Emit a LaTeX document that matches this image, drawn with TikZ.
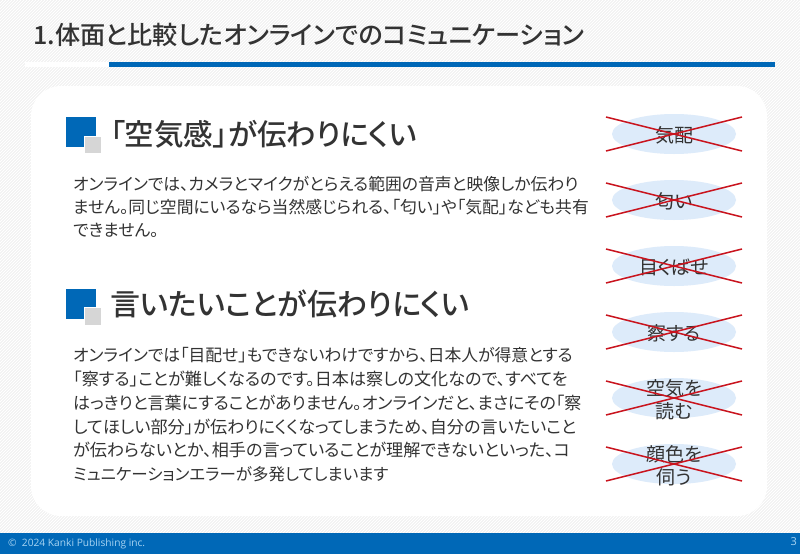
\documentclass[tikz,border=0pt]{standalone}
\usepackage{fontspec}
\usetikzlibrary{shapes.geometric}
\setmainfont{Noto Sans CJK JP}[RawFeature=+palt]
\newfontfamily\medf{Noto Sans CJK JP Medium}[RawFeature=+palt]
\newfontfamily\latinf{Open Sans}
\definecolor{brandblue}{HTML}{0068B7}
\definecolor{inkc}{HTML}{333333}
\definecolor{ovalc}{HTML}{DDEBFA}
\definecolor{crossc}{HTML}{C9141E}
\definecolor{footc}{HTML}{A8D4F2}
\tikzset{
 title/.style={anchor=west,inner sep=0pt,text=inkc,font=\medf\fontsize{25.2}{25.2}\selectfont},
 heading/.style={anchor=west,inner sep=0pt,text=inkc,font=\medf\fontsize{#1}{#1}\selectfont},
 bodyline/.style={anchor=west,inner sep=0pt,text=inkc,font=\fontsize{#1}{#1}\selectfont},
 bodyline/.default=16.8,
 oval/.style={ellipse,fill=ovalc,minimum width=124pt,minimum height=40pt,inner sep=0pt},
 ovaltext/.style={inner sep=0pt,text=inkc,align=center,font=\fontsize{19}{23}\selectfont},
 crossline/.style={draw=crossc,line width=1.5pt},
 mainsq/.style={fill=brandblue,draw=none},
 subsq/.style={fill=black!16,draw=white,line width=.6pt},
}
\begin{document}
\begin{tikzpicture}[x=1pt,y=-1pt]
\useasboundingbox (0,0) rectangle (800,554);
\fill[black!6] (0,0) rectangle (800,554);
\begin{scope}
\clip (0,0) rectangle (800,554);
\foreach \i in {-554,-551,...,800} \draw[white,line width=.8pt] (\i,554) -- (\i+554,0);
\end{scope}
% panel
\fill[white] (31,86) [rounded corners=30pt] rectangle (767,516);
% title
\node[title] (ttl) at (33,35) {1.体面と比較したオンラインでのコミュニケーション};
\fill[white] (25,62) rectangle (109,67);
\fill[brandblue] (109,61.5) rectangle (775,67);
% headings
\fill[mainsq] (66,117) rectangle (96,147);
\fill[subsq] (84,136) rectangle (101,153);
\node[heading=29.5] (h1) at (110,134) {「空気感」が伝わりにくい};
\fill[mainsq] (66,289) rectangle (96,319);
\fill[subsq] (84,307) rectangle (101,325);
\node[heading=30] (h2) at (110,304) {言いたいことが伝わりにくい};
% body
\node[bodyline] (a1) at (73,184) {オンラインでは、カメラとマイクがとらえる範囲の音声と映像しか伝わり};
\node[bodyline] (a2) at (73,207) {ません。同じ空間にいるなら当然感じられる、「匂い」や「気配」なども共有};
\node[bodyline] (a3) at (73,230) {できません。};
\node[bodyline] (b1) at (73,355) {オンラインでは「目配せ」もできないわけですから、日本人が得意とする};
\node[bodyline=17.1] (b2) at (73,379) {「察する」ことが難しくなるのです。日本は察しの文化なので、すべてを};
\node[bodyline=17] (b3) at (73,403) {はっきりと言葉にすることがありません。オンラインだと、まさにその「察};
\node[bodyline=17.1] (b4) at (73,427) {してほしい部分」が伝わりにくくなってしまうため、自分の言いたいこと};
\node[bodyline=17.1] (b5) at (73,450) {が伝わらないとか、相手の言っていることが理解できないといった、コ};
\node[bodyline=16.5] (b6) at (73,474) {ミュニケーションエラーが多発してしまいます};
% ovals
\foreach \n/\y/\t in {k/134/気配,n/200/匂い,m/266/目くばせ,s/332/察する,u/398/{空気を\\読む},g/464/{顔色を\\伺う}}{
  \node[oval] (o\n) at (674,\y) {};
  \node[ovaltext] (t\n) at (674,\y+1.5) {\t};
  \coordinate (p\n) at (606,\y-17);
  \coordinate (q\n) at (742,\y+17);
  \coordinate (r\n) at (606,\y+17);
  \coordinate (v\n) at (742,\y-17);
  \draw[crossline] (p\n) -- (q\n);
  \draw[crossline] (r\n) -- (v\n);
}
% footer
\fill[brandblue] (0,533) rectangle (800,554);
\node[anchor=west,inner sep=0pt,text=footc,font=\latinf\fontsize{10.2}{10.2}\selectfont] (copy) at (8,543.5) {©\ \ 2024 Kanki Publishing inc.};
\node[anchor=east,inner sep=0pt,text=footc,font=\latinf\fontsize{11}{11}\selectfont] (pg) at (797,542) {3};
\end{tikzpicture}
\end{document}
